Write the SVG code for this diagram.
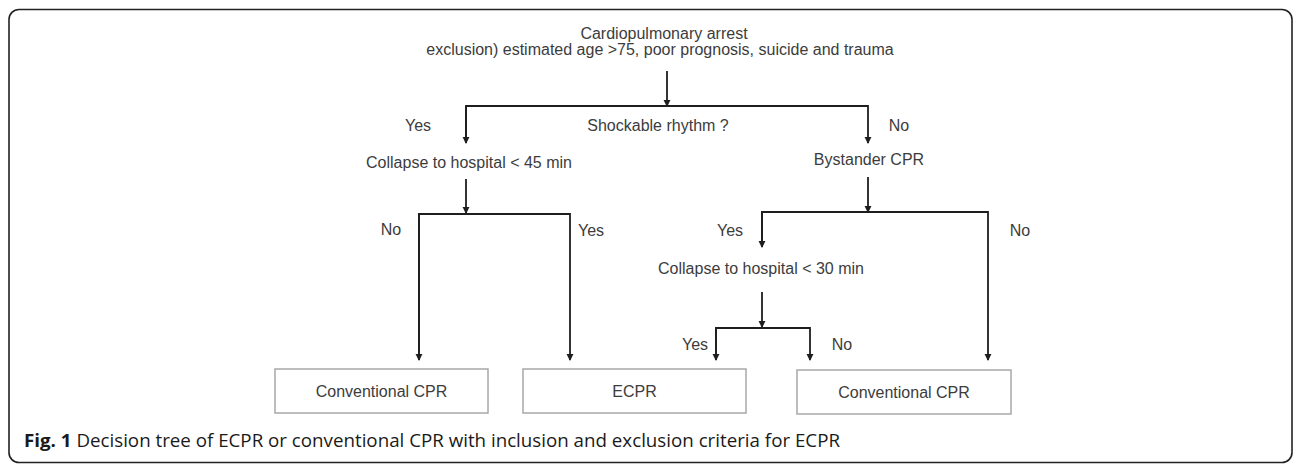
<svg xmlns="http://www.w3.org/2000/svg" width="1296" height="465" viewBox="0 0 1296 465">
  <defs>
    <marker id="arr" viewBox="0 0 8 8" refX="7" refY="4" markerWidth="4" markerHeight="4" orient="auto" markerUnits="strokeWidth">
      <path d="M0,0 L8,4 L0,8 z" fill="#1e1e1e"/>
    </marker>
    <style>
      .t { font-family: "Liberation Sans", Arial, sans-serif; font-size: 16px; fill: #3c3c3c; text-anchor: middle; }
      .ln { fill: none; stroke: #1e1e1e; stroke-width: 1.8; }
      .box { fill: #ffffff; stroke: #a8a8a8; stroke-width: 1.5; }
      .cap { font-family: "Open Sans", "Liberation Sans", sans-serif; font-size: 18.5px; fill: #1a1a1a; }
    </style>
  </defs>
  <rect x="0" y="0" width="1296" height="465" fill="#ffffff"/>
  <rect x="9" y="9.5" width="1283" height="453" rx="10" ry="10" fill="none" stroke="#222" stroke-width="1.6"/>

  <g id="connectors">
    <path class="ln" d="M667,71 V106" marker-end="url(#arr)"/>
    <path class="ln" d="M466,143 V106 H868 V143" marker-end="url(#arr)"/>
    <path class="ln" d="M466,106 V143" marker-end="url(#arr)"/>
    <path class="ln" d="M466,179 V213" marker-end="url(#arr)"/>
    <path class="ln" d="M419,360 V214 H570 V360" marker-end="url(#arr)"/>
    <path class="ln" d="M570,214 H419 V360" marker-end="url(#arr)"/>
    <path class="ln" d="M868,177 V212" marker-end="url(#arr)"/>
    <path class="ln" d="M762,247 V212 H988 V360" marker-end="url(#arr)"/>
    <path class="ln" d="M988,212 H762 V247" marker-end="url(#arr)"/>
    <path class="ln" d="M762,292 V327" marker-end="url(#arr)"/>
    <path class="ln" d="M716,360 V328 H810 V360" marker-end="url(#arr)"/>
    <path class="ln" d="M810,328 H716 V360" marker-end="url(#arr)"/>
  </g>

  <g id="start">
    <text class="t" x="664" y="39">Cardiopulmonary arrest</text>
    <text class="t" x="660" y="55">exclusion) estimated age &gt;75, poor prognosis, suicide and trauma</text>
  </g>
  <g id="shockable">
    <text class="t" x="658" y="131">Shockable rhythm ?</text>
  </g>
  <g id="labels">
    <text class="t" x="418" y="131">Yes</text>
    <text class="t" x="899" y="131">No</text>
    <text class="t" x="391" y="235">No</text>
    <text class="t" x="591" y="236">Yes</text>
    <text class="t" x="730" y="236">Yes</text>
    <text class="t" x="1020" y="236">No</text>
    <text class="t" x="695" y="350">Yes</text>
    <text class="t" x="842" y="350">No</text>
  </g>
  <g id="collapse45">
    <text class="t" x="469" y="168">Collapse to hospital &lt; 45 min</text>
  </g>
  <g id="bystander">
    <text class="t" x="869" y="165">Bystander CPR</text>
  </g>
  <g id="collapse30">
    <text class="t" x="761" y="274">Collapse to hospital &lt; 30 min</text>
  </g>
  <g id="conv1">
    <rect class="box" x="275" y="369" width="213" height="44"/>
    <text class="t" x="381.5" y="397">Conventional CPR</text>
  </g>
  <g id="ecpr">
    <rect class="box" x="523" y="369" width="223" height="44"/>
    <text class="t" x="634.5" y="397">ECPR</text>
  </g>
  <g id="conv2">
    <rect class="box" x="797" y="370" width="214" height="44"/>
    <text class="t" x="904" y="398">Conventional CPR</text>
  </g>
  <g id="caption">
    <text class="cap" x="24" y="447" textLength="816" lengthAdjust="spacingAndGlyphs"><tspan font-weight="bold">Fig. 1</tspan> Decision tree of ECPR or conventional CPR with inclusion and exclusion criteria for ECPR</text>
  </g>
</svg>
